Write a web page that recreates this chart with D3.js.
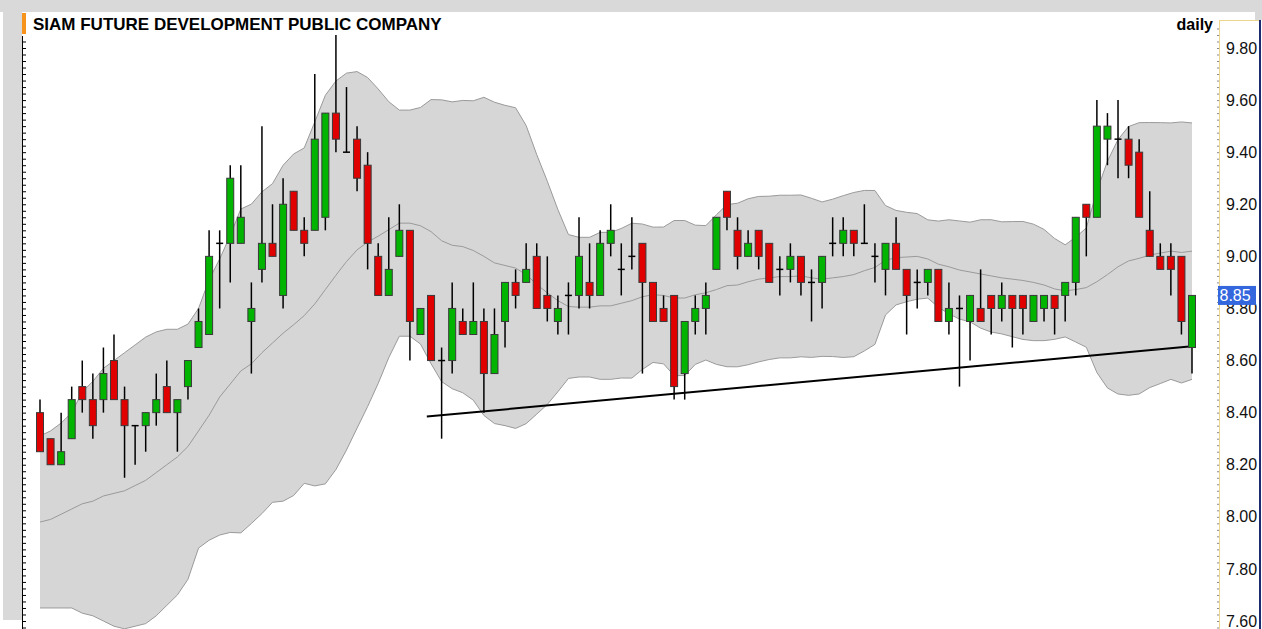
<!DOCTYPE html>
<html><head><meta charset="utf-8">
<script src="https://cdn.jsdelivr.net/npm/d3@7"></script>
<style>
body{margin:0;background:#fff;overflow:hidden}
svg{display:block}
text{font-family:"Liberation Sans",Arial,Helvetica,sans-serif}
</style>
</head><body>
<svg id="chart" width="1262" height="629"></svg>
<script>
// ---- data ----
const title = "SIAM FUTURE DEVELOPMENT PUBLIC COMPANY";
const period = "daily";
const lastPrice = 8.85;
const yTicks = [7.60, 7.80, 8.00, 8.20, 8.40, 8.60, 8.80, 9.00, 9.20, 9.40, 9.60, 9.80];

const opens = [8.40,8.30,8.20,8.30,8.50,8.45,8.45,8.60,8.45,8.35,8.35,8.40,8.50,8.40,8.50,8.65,8.70,9.05,9.05,9.05,
8.75,8.95,9.05,8.85,9.25,9.10,9.10,9.15,9.55,9.40,9.45,9.35,9.00,8.85,9.00,9.10,8.70,8.85,8.60,8.60,
8.75,8.70,8.75,8.55,8.75,8.90,8.90,9.00,8.85,8.75,8.85,8.85,8.90,8.85,9.05,8.95,9.00,9.05,8.90,8.80,
8.85,8.55,8.75,8.80,8.95,9.25,9.10,9.00,9.10,9.05,8.95,8.95,9.00,8.90,8.90,9.05,9.05,9.10,9.05,9.00,
8.95,9.05,8.95,8.90,8.90,8.95,8.75,8.80,8.75,8.80,8.85,8.80,8.85,8.85,8.75,8.80,8.85,8.85,8.90,9.20,
9.15,9.45,9.45,9.45,9.40,9.10,9.00,9.00,9.00,8.65];
const highs = [8.45,8.30,8.40,8.50,8.60,8.55,8.65,8.70,8.50,8.35,8.40,8.55,8.60,8.45,8.60,8.80,9.10,9.10,9.35,9.35,
8.90,9.50,9.20,9.30,9.25,9.15,9.70,9.55,9.85,9.65,9.50,9.40,9.05,9.15,9.20,9.10,8.80,8.85,8.65,8.90,
8.80,8.90,8.80,8.80,8.90,8.95,9.05,9.05,9.00,8.85,8.90,9.15,9.05,9.10,9.20,9.05,9.15,9.05,8.90,8.85,
8.85,8.75,8.85,8.90,9.15,9.25,9.15,9.10,9.10,9.05,9.00,9.05,9.00,8.95,9.00,9.15,9.15,9.10,9.20,9.05,
9.05,9.15,8.95,8.95,8.95,8.95,8.90,8.85,8.85,8.95,8.85,8.90,8.85,8.85,8.85,8.85,8.85,8.90,9.15,9.20,
9.60,9.55,9.60,9.50,9.45,9.25,9.05,9.05,9.00,8.85];
const lows = [8.25,8.20,8.20,8.30,8.40,8.30,8.40,8.45,8.15,8.20,8.25,8.35,8.40,8.25,8.45,8.65,8.70,8.80,8.90,9.05,
8.55,8.90,9.00,8.80,9.10,9.00,9.10,9.10,9.40,9.40,9.25,8.95,8.85,8.85,9.00,8.60,8.70,8.60,8.30,8.55,
8.70,8.70,8.40,8.55,8.65,8.80,8.90,8.80,8.75,8.70,8.70,8.80,8.80,8.85,9.00,8.85,8.95,8.55,8.75,8.75,
8.45,8.45,8.70,8.70,8.95,9.10,8.95,9.00,8.95,8.90,8.85,8.90,8.85,8.75,8.80,9.00,9.00,9.00,9.05,8.90,
8.85,8.95,8.70,8.80,8.85,8.75,8.70,8.50,8.60,8.75,8.70,8.75,8.65,8.70,8.75,8.75,8.70,8.75,8.85,9.00,
9.15,9.35,9.30,9.30,9.15,9.00,8.95,8.85,8.70,8.55];
const closes = [8.25,8.20,8.25,8.45,8.45,8.35,8.55,8.45,8.35,8.35,8.40,8.45,8.40,8.45,8.60,8.75,9.00,9.05,9.30,9.15,
8.80,9.05,9.00,9.20,9.10,9.05,9.45,9.55,9.45,9.40,9.30,9.05,8.85,8.95,9.10,8.75,8.80,8.60,8.60,8.80,
8.70,8.75,8.55,8.70,8.90,8.85,8.95,8.80,8.80,8.80,8.85,9.00,8.85,9.05,9.10,8.95,9.00,8.90,8.75,8.75,
8.50,8.75,8.80,8.85,9.15,9.15,9.00,9.05,9.00,8.90,8.95,9.00,8.90,8.90,9.00,9.05,9.10,9.05,9.05,9.00,
9.05,8.95,8.85,8.90,8.95,8.75,8.80,8.80,8.85,8.75,8.80,8.85,8.80,8.80,8.85,8.85,8.80,8.90,9.15,9.15,
9.50,9.50,9.45,9.35,9.15,9.00,8.95,8.95,8.75,8.85];

// Bollinger band values for the first 19 sessions (their history is off-chart)
const earlyUpper  = [8.31,8.33,8.36,8.40,8.48,8.52,8.57,8.60,8.63,8.66,8.69,8.71,8.72,8.72,8.74,8.80,8.91,8.99,9.08];
const earlyMiddle = [7.98,7.99,8.01,8.03,8.05,8.06,8.08,8.09,8.10,8.12,8.14,8.17,8.20,8.23,8.27,8.33,8.39,8.46,8.51];
const earlyLower  = [7.65,7.65,7.65,7.65,7.63,7.62,7.60,7.58,7.57,7.58,7.59,7.62,7.66,7.70,7.76,7.88,7.91,7.93,7.94];
const bbPeriod = 20, bbWidth = 2;

// hand-drawn support line (session index, price)
const trendIdx = [36.6, 109];
const trendVal = [8.385, 8.655];

// ---- build ----
const candles = opens.map((o,i)=>({i, o, h:highs[i], l:lows[i], c:closes[i]}));
const bands = candles.map((d,i)=>{
  if (i < bbPeriod-1) return {i, upper:earlyUpper[i], middle:earlyMiddle[i], lower:earlyLower[i]};
  const w = closes.slice(i-bbPeriod+1, i+1);
  const m = d3.mean(w);
  const sd = Math.sqrt(d3.mean(w, v=>(v-m)*(v-m)));
  return {i, upper:m+bbWidth*sd, middle:m, lower:m-bbWidth*sd};
});

const W = 1262, H = 629;
const svg = d3.select("#chart");
const x = d3.scaleLinear().domain([0, candles.length-1]).range([40, 1192]);
const y = d3.scaleLinear().domain([7.60, 9.80]).range([621, 48]);

// frame
svg.append("rect").attr("x",0).attr("y",0).attr("width",W).attr("height",12).attr("fill","#d9d9d9");
svg.append("rect").attr("x",3).attr("y",0).attr("width",19).attr("height",620).attr("fill","#d9d9d9");
svg.append("rect").attr("x",1255).attr("y",12).attr("width",7).attr("height",8).attr("fill","#d9d9d9");

svg.append("defs").append("clipPath").attr("id","plot")
  .append("rect").attr("x",23).attr("y",12).attr("width",1196).attr("height",H-12);

const plot = svg.append("g").attr("clip-path","url(#plot)");

// bands
plot.append("path").datum(bands)
  .attr("d", d3.area().x(d=>x(d.i)).y0(d=>y(d.lower)).y1(d=>y(d.upper)))
  .attr("fill","#d6d6d6");
["upper","lower","middle"].forEach(k=>{
  plot.append("path").datum(bands)
    .attr("d", d3.line().x(d=>x(d.i)).y(d=>y(d[k])))
    .attr("fill","none").attr("stroke","#9a9a9a").attr("stroke-width",1);
});

// trend line
plot.append("line")
  .attr("x1", x(trendIdx[0])).attr("y1", y(trendVal[0]))
  .attr("x2", x(trendIdx[1])).attr("y2", y(trendVal[1]))
  .attr("stroke","#000").attr("stroke-width",2);

// candles
const cg = plot.append("g");
cg.selectAll("line.wick").data(candles).join("line").attr("class","wick")
  .attr("x1",d=>x(d.i)).attr("x2",d=>x(d.i))
  .attr("y1",d=>y(d.h)).attr("y2",d=>y(d.l))
  .attr("stroke","#000").attr("stroke-width",1.5);
cg.selectAll("rect.body").data(candles.filter(d=>d.o!==d.c)).join("rect").attr("class","body")
  .attr("x",d=>x(d.i)-3.5).attr("width",7)
  .attr("y",d=>y(Math.max(d.o,d.c))).attr("height",d=>Math.abs(y(d.o)-y(d.c)))
  .attr("fill",d=>d.c>d.o?"#00b400":"#e00000")
  .attr("stroke","#3a3a3a").attr("stroke-width",1);
cg.selectAll("line.doji").data(candles.filter(d=>d.o===d.c)).join("line").attr("class","doji")
  .attr("x1",d=>x(d.i)-3.5).attr("x2",d=>x(d.i)+3.5)
  .attr("y1",d=>y(d.c)).attr("y2",d=>y(d.c))
  .attr("stroke","#000").attr("stroke-width",1.5);

// left axis (minor ticks)
const minor = d3.range(Math.round(y.invert(H)*40), Math.round(y.invert(36)*40)+1).map(v=>v/40);
const leftAx = svg.append("g").attr("transform","translate(23,0)")
  .call(d3.axisRight(y).tickValues(minor.filter(v=>y(v)>=37 && y(v)<=H)).tickSize(3).tickFormat(""));
leftAx.select(".domain").remove();
leftAx.selectAll(".tick line").attr("stroke","#000");
svg.append("line").attr("x1",22.5).attr("x2",22.5).attr("y1",36).attr("y2",H).attr("stroke","#000").attr("stroke-width",1);

// right axis
const rMinor = d3.range(Math.round(y.invert(H)*40), Math.round(y.invert(22)*40)+1).map(v=>v/40);
const rmAx = svg.append("g").attr("transform","translate(1219,0)")
  .call(d3.axisLeft(y).tickValues(rMinor.filter(v=>y(v)>=22 && y(v)<=H)).tickSize(2).tickFormat(""));
rmAx.select(".domain").remove();
rmAx.selectAll(".tick line").attr("stroke","#8a8a8a");
svg.append("line").attr("x1",1219.5).attr("x2",1219.5).attr("y1",20).attr("y2",H).attr("stroke","#ecd68e").attr("stroke-width",1);
svg.append("line").attr("x1",1219.5).attr("x2",1259).attr("y1",20.5).attr("y2",20.5).attr("stroke","#ecd68e").attr("stroke-width",1);

const rAx = svg.append("g").attr("transform","translate(1219,0)")
  .call(d3.axisRight(y).tickValues(yTicks).tickFormat(d3.format(".2f")).tickSize(0).tickPadding(7));
rAx.select(".domain").remove();
rAx.selectAll("text").attr("font-size","16px").attr("fill","#111")
  .attr("font-family",'"Liberation Sans",Arial,sans-serif');

// last price marker (drawn over the 8.80 label, as in the reference)
svg.append("rect").attr("x",1218).attr("y",y(lastPrice)-9.5).attr("width",38).attr("height",19).attr("fill","#3466de");
svg.append("text").attr("x",1219.5).attr("y",y(lastPrice)+6).attr("font-size","16px").attr("fill","#fff").text(lastPrice.toFixed(2));

// right border
svg.append("rect").attr("x",1259).attr("y",20).attr("width",2).attr("height",H-20).attr("fill","#1c2a6e");

// title
svg.append("rect").attr("x",22).attr("y",13).attr("width",4).attr("height",21).attr("fill","#f7941d");
svg.append("text").attr("x",33).attr("y",29.5).attr("font-size","17px").attr("font-weight","bold").attr("fill","#000").text(title);
svg.append("text").attr("x",1213).attr("y",29.5).attr("text-anchor","end").attr("font-size","16px").attr("font-weight","bold").attr("fill","#000").text(period);
</script>
</body></html>
